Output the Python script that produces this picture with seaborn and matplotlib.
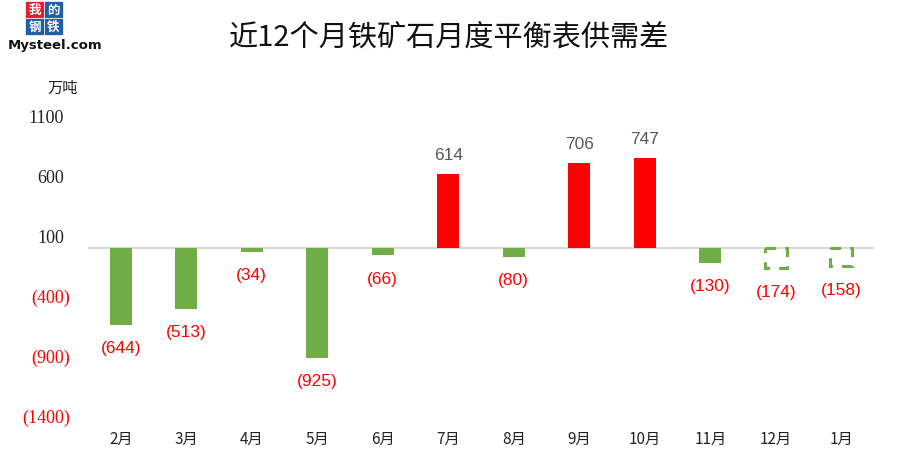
import matplotlib
matplotlib.use("Agg")
import matplotlib.pyplot as plt
import seaborn as sns
import numpy as np
from matplotlib.transforms import ScaledTranslation
from matplotlib.patches import Rectangle

months = ['2月', '3月', '4月', '5月', '6月', '7月', '8月', '9月', '10月', '11月', '12月', '1月']
values = [-644, -513, -34, -925, -66, 614, -80, 706, 747, -130, -174, -158]
forecast = [False] * 10 + [True, True]
yticks = [-1400, -900, -400, 100, 600, 1100]

GREEN = '#70AD47'
RED = '#FF0000'

sns.set_theme(style='white')
plt.rcParams['font.family'] = ['Noto Sans CJK SC', 'DejaVu Sans']

fig = plt.figure(figsize=(8.98, 4.64), dpi=100)
ax = fig.add_axes([88/898, 1-416/464, (874-88)/898, (416-117)/464])

colors = [RED if v > 0 else GREEN for v in values]
sns.barplot(x=months, y=values, hue=months, palette=colors, legend=False,
            width=0.34, ax=ax, saturation=1)

for p, f in zip(ax.patches, forecast):
    p.set_linewidth(0)
    if f:
        p.set_facecolor('none')
        p.set_edgecolor(GREEN)
        p.set_linewidth(2.2)
        p.set_linestyle((0, (3.5, 3)))

ax.axhline(0, color='#D9D9D9', lw=1.5, zorder=0)
ax.set_ylim(-1400, 1100)
ax.set_xlim(-0.5, len(months) - 0.5)
sns.despine(ax=ax, left=True, bottom=True)

ax.set_yticks(yticks)
ylabels = [str(t) if t > 0 else f'({-t})' for t in yticks]
ax.set_yticklabels(ylabels)
ax.tick_params(axis='y', length=0, pad=13)
ax.tick_params(axis='x', length=0, pad=11)
for lab, t in zip(ax.get_yticklabels(), yticks):
    lab.set_fontfamily(['Liberation Serif', 'DejaVu Serif'])
    lab.set_fontsize(13)
    if t < 0:
        lab.set_color(RED)
    else:
        lab.set_color('#222222')
        lab.set_transform(lab.get_transform() + ScaledTranslation(-6/100, 0, fig.dpi_scale_trans))
for lab in ax.get_xticklabels():
    lab.set_fontsize(11)
    lab.set_color('#222222')
ax.set_xlabel('')
ax.set_ylabel('')

for i, v in enumerate(values):
    if v > 0:
        ax.annotate(str(v), (i, v), xytext=(0, 9), textcoords='offset points',
                    ha='center', va='bottom', fontsize=12.5, color='#595959',
                    family=['Liberation Sans', 'DejaVu Sans'])
    else:
        ax.annotate(f'({-v})', (i, v), xytext=(0, -11), textcoords='offset points',
                    ha='center', va='top', fontsize=12.5, color=RED,
                    family=['Liberation Sans', 'DejaVu Sans'])

fig.text(449/898, 1-38/464, '近12个月铁矿石月度平衡表供需差', ha='center', va='center',
         fontsize=21, color='#111111')
fig.text(63/898, 1-88/464, '万吨', ha='center', va='center', fontsize=11, color='#222222')

# logo
boxes = [('我', 25, 2, '#E0202A'), ('的', 44, 2, '#1F5FA8'),
         ('钢', 25, 19, '#1F5FA8'), ('铁', 44, 19, '#1F5FA8')]
for ch, x0, y0, c in boxes:
    fig.patches.append(Rectangle((x0/898, 1-(y0+17)/464), 19/898, 17/464,
                                 transform=fig.transFigure, facecolor=c, edgecolor='white', lw=0.5))
    fig.text((x0+9.5)/898, 1-(y0+8.5)/464, ch, ha='center', va='center', fontsize=9,
             color='white', fontweight='bold')
fig.text(8/898, 1-45.5/464, 'Mysteel.com', ha='left', va='center', fontsize=9.5,
         fontweight='bold', color='#111111', family=['DejaVu Sans'])

fig.savefig('out.png', dpi=100)
